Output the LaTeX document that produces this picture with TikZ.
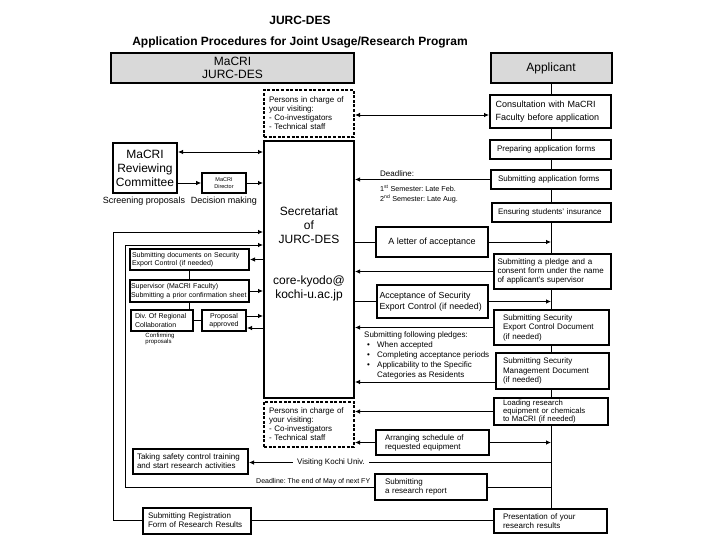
\documentclass[tikz,border=0pt]{standalone}
\usepackage{fontspec}
\setmainfont{Liberation Sans}
\usetikzlibrary{arrows.meta,backgrounds}

\definecolor{hdrgray}{HTML}{D9D9D9}
\newcommand{\fsz}[2]{\fontsize{#1}{#2}\selectfont}
\newcommand{\pitem}{\makebox[13pt][l]{\hspace*{3pt}\textbullet}}
\frenchspacing

\tikzset{
  box/.style={draw, line width=2pt, fill=white, align=left, inner ysep=0pt},
  dashbox/.style={box, dash pattern=on 3pt off 1.6pt},
  hdr/.style={draw, line width=2pt, fill=hdrgray, align=center, inner sep=0pt},
  conn/.style={line width=0.8pt},
  note/.style={inner sep=0pt, align=left}
}

\begin{document}
\begin{tikzpicture}[x=1pt, y=-1pt, >={Latex[length=5pt,width=4.5pt]}]
\useasboundingbox (0,0) rectangle (720,540);

% === Title ===
\node[font=\bfseries\fsz{12}{14}] (title) at (300,20) {JURC-DES};
\node[font=\bfseries\fsz{12}{14}] (subtitle) at (300,42) {Application Procedures for Joint Usage/Research Program};

% === Headers ===
\node[hdr, minimum width=243pt, minimum height=30pt, font=\fsz{12}{13}] (hdrL) at (232.5,68) {MaCRI\\JURC-DES};
\node[hdr, minimum width=121pt, minimum height=30pt, font=\fsz{12}{14}] (hdrR) at (551,68) {Applicant};

% === Applicant column ===
\node[box, text width=110pt, inner xsep=5.5pt, minimum height=33pt, font=\fsz{9}{13}] (cons) at (550.5,111.5) {Consultation with MaCRI\\Faculty before application};
\node[box, text width=107pt, inner xsep=7pt, minimum height=19pt, font=\fsz{8}{9}] (prep) at (550.5,149.5) {Preparing application forms};
\node[box, text width=106pt, inner xsep=7pt, minimum height=19pt, font=\fsz{8}{9}] (subm) at (551,179.5) {Submitting application forms};
\node[box, text width=107pt, inner xsep=6pt, minimum height=19pt, font=\fsz{8}{9}] (insur) at (551.5,212.5) {Ensuring students' insurance};
\node[box, text width=110pt, inner xsep=3.5pt, minimum height=35pt, font=\fsz{8}{9}] (pledge) at (552.5,271.5) {Submitting a pledge and a\\consent form under the name\\of applicant's supervisor};
\node[box, text width=97pt, inner xsep=9pt, minimum height=35pt, font=\fsz{8}{9.5}] (secexp) at (551.5,327.5) {Submitting Security\\Export Control Document\\(if needed)};
\node[box, text width=99pt, inner xsep=7pt, minimum height=36pt, font=\fsz{8}{9.5}] (secman) at (552.5,371) {Submitting Security\\Management Document\\(if needed)};
\node[box, text width=96pt, inner xsep=9pt, minimum height=27pt, font=\fsz{7.7}{8.1}] (loading) at (551,411.5) {Loading research\\equipment or chemicals\\to MaCRI (if needed)};
\node[box, text width=95pt, inner xsep=9pt, minimum height=24pt, font=\fsz{8}{9}] (present) at (550.5,521) {Presentation of your\\research results};

% === Secretariat and persons in charge ===
\node[dashbox, text width=80pt, inner xsep=5pt, minimum height=47pt, font=\fsz{8}{9}] (dash1) at (309,113.5) {Persons in charge of\\your visiting:\\- Co-investigators\\- Technical staff};
\node[box, minimum width=90pt, minimum height=257pt] (secr) at (309,269.5) {};
\node[align=center, font=\fsz{12}{14}] (secT) at (309,225) {Secretariat\\of\\JURC-DES};
\node[align=center, font=\fsz{12}{14}] (mailT) at (309,288) {core-kyodo@\\kochi-u.ac.jp};
\node[dashbox, text width=80pt, inner xsep=5pt, minimum height=45pt, font=\fsz{8}{9}] (dash2) at (309,424.5) {Persons in charge of\\your visiting:\\- Co-investigators\\- Technical staff};

% === MaCRI side ===
\node[box, align=center, minimum width=64pt, minimum height=50pt, inner xsep=0pt, font=\fsz{12}{14}] (rev) at (145,168) {MaCRI\\Reviewing\\Committee};
\node[font=\fsz{9}{10}] (scr) at (144,201) {Screening proposals};
\node[box, align=center, minimum width=44pt, minimum height=20pt, inner xsep=0pt, line width=1.8pt, font=\fsz{5.5}{6.5}] (dir) at (224,183) {MaCRI\\Director};
\node[font=\fsz{9}{10}] (dec) at (224,201) {Decision making};

\node[box, text width=115pt, inner xsep=2pt, minimum height=21pt, font=\fsz{7}{8.5}] (secdoc) at (189.5,259.5) {Submitting documents on Security\\Export Control (if needed)};
\node[box, text width=117pt, inner xsep=1pt, minimum height=22pt, font=\fsz{7}{8.5}] (superv) at (189.5,291) {Supervisor (MaCRI Faculty)\\Submitting a prior confirmation sheet};
\node[box, text width=54pt, inner xsep=4pt, minimum height=21pt, font=\fsz{7}{8.5}] (div) at (162,320.5) {Div. Of Regional\\Collaboration};
\node[note, font=\fsz{6}{5}] (conf) at (160,339) {Confirming\\proposals};
\node[box, align=center, minimum width=44pt, minimum height=21pt, inner xsep=0pt, font=\fsz{7}{8.5}] (appr) at (224,320.5) {Proposal\\approved};
\node[box, text width=107pt, inner xsep=4pt, minimum height=25pt, font=\fsz{8}{9}] (safety) at (190.5,461.5) {Taking safety control training\\and start research activities};
\node[box, text width=98pt, inner xsep=5pt, minimum height=26pt, font=\fsz{8}{9}] (regist) at (197,520.5) {Submitting Registration\\Form of Research Results};

% === Middle boxes ===
\node[box, align=center, minimum width=112pt, minimum height=30pt, font=\fsz{9}{11}] (letter) at (432,242) {A letter of acceptance};
\node[box, text width=106pt, inner xsep=2.5pt, minimum height=33pt, font=\fsz{8.8}{11.5}] (accsec) at (432.5,301.5) {Acceptance of Security\\Export Control (if needed)};
\node[box, text width=95pt, inner xsep=9pt, minimum height=25pt, font=\fsz{8}{9}] (arr) at (432.5,442.5) {Arranging schedule of\\requested equipment};
\node[box, text width=92pt, inner xsep=10pt, minimum height=26pt, font=\fsz{8}{9}] (report) at (431,487) {Submitting\\a research report};

% === Notes ===
\node[note, anchor=south west, font=\fsz{8}{9}] (dl) at (380,177) {Deadline:};
\node[note, anchor=north west, font=\fsz{7.2}{10}] (sem) at (380,185) {1\textsuperscript{st} Semester: Late Feb.\\2\textsuperscript{nd} Semester: Late Aug.};
\node[note, anchor=north west, font=\fsz{8}{9.8}] (plg) at (364,332) {Submitting following pledges:\\\pitem When accepted\\\pitem Completing acceptance periods\\\pitem Applicability to the Specific\\\hspace*{13pt}Categories as Residents};
\node[font=\fsz{8}{9}, inner xsep=4pt] (visit) at (331,462.5) {Visiting Kochi Univ.};
\node[note, anchor=south west, font=\fsz{7}{8}] (dlFY) at (256,485.5) {Deadline: The end of May of next FY};

% === Applicant column line ===
\begin{scope}[on background layer]
  \draw[conn] (hdrR.south) -- (hdrR.south |- present.north);
\end{scope}

% === Connectors, top ===
\draw[conn,<->] (dash1.east |- 0,115) -- (cons.west |- 0,115);
\draw[conn,<->] (rev.east |- 0,152) -- (secr.west |- 0,152);
\draw[conn,->] (rev.east |- dir.west) -- (dir.west);
\draw[conn,->] (dir.east) -- (dir.east -| secr.west);
\draw[conn,->] (subm.west) -- (subm.west -| secr.east);

% === Connectors, left loops ===
\draw[conn,->] (regist.west) -| (113,232) -- (secr.west |- 0,232);
\draw[conn] (regist.east) -- (regist.east -| present.west);
\draw[conn,->] (report.west) -| (125,245) -- (secr.west |- 0,245);
\draw[conn] (report.east) -- (report.east -| hdrR.south);

% === Connectors, MaCRI side ===
\draw[conn,->] (secr.west |- secdoc.east) -- (secdoc.east);
\draw[conn] (secdoc.south) -- (superv.north);
\draw[conn,->] (superv.east) -- (superv.east -| secr.west);
\draw[conn] (superv.south) -- (superv.south |- div.north);
\draw[conn] (div.east) -- (appr.west);
\coordinate (apprUp) at ([yshift=4.5pt]appr.east);
\coordinate (apprDn) at ([yshift=-7.5pt]appr.east);
\draw[conn,->] (apprUp) -- (apprUp -| secr.west);
\draw[conn,->] (apprDn -| secr.west) -- (apprDn);

% === Connectors, applicant side ===
\draw[conn] (secr.east |- letter.west) -- (letter.west);
\draw[conn,->] (letter.east) -- (letter.east -| hdrR.south);
\draw[conn,->] (pledge.west) -- (pledge.west -| secr.east);
\draw[conn] (secr.east |- accsec.west) -- (accsec.west);
\draw[conn,->] (accsec.east) -- (accsec.east -| hdrR.south);
\draw[conn,->] (secexp.west) -- (secexp.west -| secr.east);
\coordinate (smLow) at ([yshift=-11pt]secman.west);
\draw[conn,->] (smLow) -- (smLow -| secr.east);
\draw[conn,->] (loading.west) -- (loading.west -| dash2.east);
\draw[conn,->] (arr.west) -- (arr.west -| dash2.east);
\draw[conn,->] (arr.east) -- (arr.east -| hdrR.south);
\draw[conn] (hdrR.south |- visit.east) -- (visit.east);
\draw[conn,->] (visit.west) -- (visit.west -| safety.east);

\end{tikzpicture}
\end{document}
